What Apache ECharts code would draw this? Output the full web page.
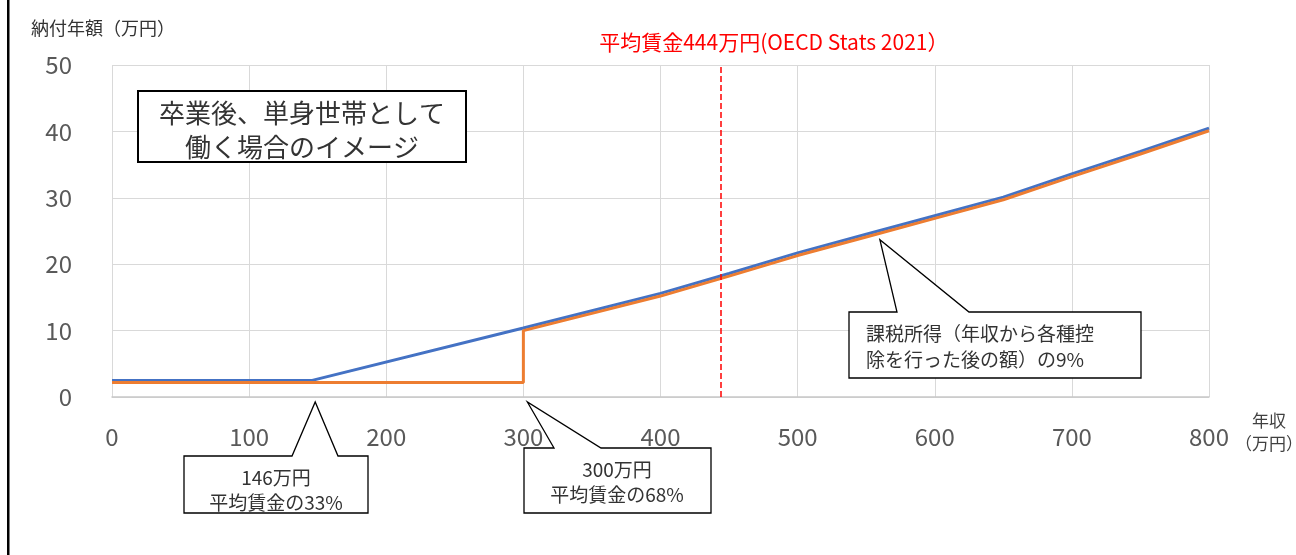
<!DOCTYPE html>
<html>
<head>
<meta charset="utf-8">
<style>
  html, body { margin: 0; padding: 0; background: #fff; }
  #main { width: 1296px; height: 555px; }
</style>
<script src="https://cdn.jsdelivr.net/npm/echarts@6/dist/echarts.min.js"></script>
</head>
<body>
<div id="main"></div>
<script>
// data
var xTicks = [0, 100, 200, 300, 400, 500, 600, 700, 800];
var yTicks = [0, 10, 20, 30, 40, 50];
// blue: 課税所得の9%
var incomeBlue = [0, 146, 300, 350, 400, 450, 500, 550, 600, 650, 700, 750, 800];
var taxBlue = [2.5, 2.5, 10.4, 13.0, 15.6, 18.6, 21.7, 24.5, 27.3, 30.1, 33.6, 37.0, 40.5];
// orange: step at 300
var incomeOrange = [0, 300, 300, 350, 400, 450, 500, 550, 600, 650, 700, 750, 800];
var taxOrange = [2.2, 2.2, 10.0, 12.6, 15.2, 18.2, 21.3, 24.1, 26.9, 29.7, 33.2, 36.6, 40.1];
var avgWage = 444;
var avgWageLabel = '平均賃金444万円(OECD Stats 2021）';
var calloutAnchors = [[146, 0], [300, 0], [560, 23.7]];

var font = '"Noto Sans CJK JP", "Noto Sans", sans-serif';

function pairs(xs, ys) {
    return xs.map(function (x, i) { return [x, ys[i]]; });
}

(function () {
    // 1. init
    var myChart = echarts.init(document.getElementById('main'));

    // 2. option
    var option = {
        animation: false,
        title: {
            text: '納付年額（万円）',
            left: 26,
            top: 14,
            textStyle: { fontFamily: font, fontSize: 18, fontWeight: 'normal', color: '#333' }
        },
        grid: {
            left: 112,
            right: 87,
            top: 65,
            bottom: 158,
            outerBoundsMode: 'none'
        },
        xAxis: {
            type: 'value',
            min: xTicks[0],
            max: xTicks[xTicks.length - 1],
            interval: 100,
            name: '年収\n（万円）',
            nameLocation: 'end',
            nameGap: 54,
            nameTextStyle: {
                fontFamily: font, fontSize: 17, color: '#404040',
                align: 'center', verticalAlign: 'top', lineHeight: 23,
                padding: [12, 0, 0, 0]
            },
            axisTick: { show: false },
            axisLine: { lineStyle: { color: '#c8c8c8', width: 1.5 } },
            axisLabel: { fontFamily: font, fontSize: 24, color: '#595959', margin: 28 },
            splitLine: { show: true, lineStyle: { color: '#d9d9d9', width: 1 } }
        },
        yAxis: {
            type: 'value',
            min: yTicks[0],
            max: yTicks[yTicks.length - 1],
            interval: 10,
            axisTick: { show: false },
            axisLine: { show: false },
            axisLabel: { fontFamily: font, fontSize: 24, color: '#595959', margin: 40 },
            splitLine: { lineStyle: { color: '#d9d9d9', width: 1 } }
        },
        series: [{
            name: 'blue',
            type: 'line',
            data: pairs(incomeBlue, taxBlue),
            showSymbol: false,
            lineStyle: { color: '#4472C4', width: 3 },
            z: 3
        }, {
            name: 'orange',
            type: 'line',
            data: pairs(incomeOrange, taxOrange),
            showSymbol: false,
            lineStyle: { color: '#ED7D31', width: 3 },
            z: 4,
            markLine: {
                silent: true,
                symbol: 'none',
                lineStyle: { color: '#FF0000', type: 'dashed', width: 1.5 },
                label: {
                    show: true,
                    position: 'end',
                    formatter: avgWageLabel,
                    fontFamily: font,
                    fontSize: 21,
                    color: '#FF0000',
                    padding: [0, 0, 0, 106],
                    distance: 12
                },
                data: [{ xAxis: avgWage }]
            }
        }]
    };

    // 3. set option
    myChart.setOption(option);

    // 4. annotation boxes (callouts)
    function callout(tip, box, base) {
        var top = box.y;
        return {
            type: 'polygon',
            z: 100,
            shape: {
                points: [
                    [box.x, top], [base[0], top], tip, [base[1], top],
                    [box.x + box.w, top], [box.x + box.w, top + box.h], [box.x, top + box.h]
                ]
            },
            style: { fill: '#fff', stroke: '#000', lineWidth: 1.3 }
        };
    }
    function label(x, y, text, size, align) {
        return {
            type: 'text',
            z: 101,
            x: x,
            y: y,
            style: {
                text: text,
                font: size + 'px ' + font,
                fill: '#333',
                align: align || 'center',
                verticalAlign: 'middle'
            }
        };
    }

    var t1 = myChart.convertToPixel({ gridIndex: 0 }, calloutAnchors[0]);
    var t2 = myChart.convertToPixel({ gridIndex: 0 }, calloutAnchors[1]);
    var t3 = myChart.convertToPixel({ gridIndex: 0 }, calloutAnchors[2]);
    t1 = [t1[0] + 3, t1[1] + 5];
    t2 = [t2[0] + 4, t2[1] + 5];

    var graphics = [
        // left frame line
        { type: 'rect', z: 100, shape: { x: 7, y: 0, width: 2.5, height: 555 }, style: { fill: '#000' } },
        // title box
        { type: 'rect', z: 100, shape: { x: 138, y: 91, width: 328, height: 71 },
          style: { fill: '#fff', stroke: '#000', lineWidth: 2 } },
        label(302, 113, '卒業後、単身世帯として', 26),
        label(302, 147, '働く場合のイメージ', 26),
        callout(t1, { x: 184, y: 456, w: 184, h: 57 }, [292, 338]),
        label(276, 478, '146万円', 19),
        label(276, 503, '平均賃金の33%', 19),
        callout(t2, { x: 524, y: 448, w: 187, h: 65 }, [554, 601]),
        label(617, 470, '300万円', 19),
        label(617, 495, '平均賃金の68%', 19),
        callout(t3, { x: 849, y: 312, w: 292, h: 66 }, [897, 969]),
        label(866, 334, '課税所得（年収から各種控', 19, 'left'),
        label(866, 360, '除を行った後の額）の9%', 19, 'left')
    ];
    myChart.setOption({ graphic: graphics });
})();
</script>
</body>
</html>
